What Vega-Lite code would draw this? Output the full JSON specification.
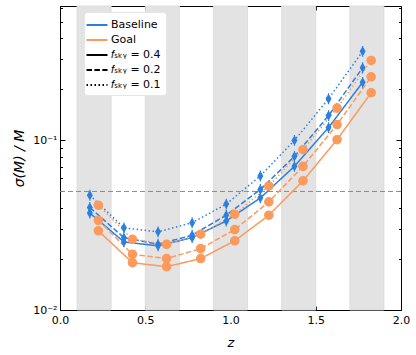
{
  "$schema": "https://vega.github.io/schema/vega-lite/v6.json",
  "autosize": {"type": "none"},
  "padding": {"left": 60, "top": 6, "right": 15, "bottom": 45},
  "width": 341,
  "height": 304,
  "datasets": {
    "bands": [
      {"z0": 0.1, "z1": 0.3}, {"z0": 0.5, "z1": 0.7}, {"z0": 0.9, "z1": 1.1},
      {"z0": 1.3, "z1": 1.5}, {"z0": 1.7, "z1": 1.9}
    ],
    "curves": [
      {"survey": "Baseline", "fsky": "0.1", "z": 0.175, "sigma": 0.0475},
      {"survey": "Baseline", "fsky": "0.1", "z": 0.375, "sigma": 0.0305},
      {"survey": "Baseline", "fsky": "0.1", "z": 0.575, "sigma": 0.0289},
      {"survey": "Baseline", "fsky": "0.1", "z": 0.775, "sigma": 0.0327},
      {"survey": "Baseline", "fsky": "0.1", "z": 0.975, "sigma": 0.0421},
      {"survey": "Baseline", "fsky": "0.1", "z": 1.175, "sigma": 0.0617},
      {"survey": "Baseline", "fsky": "0.1", "z": 1.375, "sigma": 0.100},
      {"survey": "Baseline", "fsky": "0.1", "z": 1.575, "sigma": 0.176},
      {"survey": "Baseline", "fsky": "0.1", "z": 1.775, "sigma": 0.335},
      {"survey": "Baseline", "fsky": "0.2", "z": 0.175, "sigma": 0.0402},
      {"survey": "Baseline", "fsky": "0.2", "z": 0.375, "sigma": 0.0267},
      {"survey": "Baseline", "fsky": "0.2", "z": 0.575, "sigma": 0.0244},
      {"survey": "Baseline", "fsky": "0.2", "z": 0.775, "sigma": 0.0276},
      {"survey": "Baseline", "fsky": "0.2", "z": 0.975, "sigma": 0.0362},
      {"survey": "Baseline", "fsky": "0.2", "z": 1.175, "sigma": 0.0513},
      {"survey": "Baseline", "fsky": "0.2", "z": 1.375, "sigma": 0.0805},
      {"survey": "Baseline", "fsky": "0.2", "z": 1.575, "sigma": 0.140},
      {"survey": "Baseline", "fsky": "0.2", "z": 1.775, "sigma": 0.268},
      {"survey": "Baseline", "fsky": "0.4", "z": 0.175, "sigma": 0.0373},
      {"survey": "Baseline", "fsky": "0.4", "z": 0.375, "sigma": 0.0252},
      {"survey": "Baseline", "fsky": "0.4", "z": 0.575, "sigma": 0.0239},
      {"survey": "Baseline", "fsky": "0.4", "z": 0.775, "sigma": 0.0267},
      {"survey": "Baseline", "fsky": "0.4", "z": 0.975, "sigma": 0.0335},
      {"survey": "Baseline", "fsky": "0.4", "z": 1.175, "sigma": 0.0458},
      {"survey": "Baseline", "fsky": "0.4", "z": 1.375, "sigma": 0.0703},
      {"survey": "Baseline", "fsky": "0.4", "z": 1.575, "sigma": 0.119},
      {"survey": "Baseline", "fsky": "0.4", "z": 1.775, "sigma": 0.220},
      {"survey": "Goal", "fsky": "0.1", "z": 0.225, "sigma": 0.0415},
      {"survey": "Goal", "fsky": "0.1", "z": 0.425, "sigma": 0.0261},
      {"survey": "Goal", "fsky": "0.1", "z": 0.625, "sigma": 0.0244},
      {"survey": "Goal", "fsky": "0.1", "z": 0.825, "sigma": 0.0280},
      {"survey": "Goal", "fsky": "0.1", "z": 1.025, "sigma": 0.0367},
      {"survey": "Goal", "fsky": "0.1", "z": 1.225, "sigma": 0.0539},
      {"survey": "Goal", "fsky": "0.1", "z": 1.425, "sigma": 0.0881},
      {"survey": "Goal", "fsky": "0.1", "z": 1.625, "sigma": 0.155},
      {"survey": "Goal", "fsky": "0.1", "z": 1.825, "sigma": 0.296},
      {"survey": "Goal", "fsky": "0.2", "z": 0.225, "sigma": 0.0338},
      {"survey": "Goal", "fsky": "0.2", "z": 0.425, "sigma": 0.0213},
      {"survey": "Goal", "fsky": "0.2", "z": 0.625, "sigma": 0.0201},
      {"survey": "Goal", "fsky": "0.2", "z": 0.825, "sigma": 0.0230},
      {"survey": "Goal", "fsky": "0.2", "z": 1.025, "sigma": 0.0298},
      {"survey": "Goal", "fsky": "0.2", "z": 1.225, "sigma": 0.0434},
      {"survey": "Goal", "fsky": "0.2", "z": 1.425, "sigma": 0.0703},
      {"survey": "Goal", "fsky": "0.2", "z": 1.625, "sigma": 0.124},
      {"survey": "Goal", "fsky": "0.2", "z": 1.825, "sigma": 0.237},
      {"survey": "Goal", "fsky": "0.4", "z": 0.225, "sigma": 0.0293},
      {"survey": "Goal", "fsky": "0.4", "z": 0.425, "sigma": 0.0190},
      {"survey": "Goal", "fsky": "0.4", "z": 0.625, "sigma": 0.0180},
      {"survey": "Goal", "fsky": "0.4", "z": 0.825, "sigma": 0.0201},
      {"survey": "Goal", "fsky": "0.4", "z": 1.025, "sigma": 0.0256},
      {"survey": "Goal", "fsky": "0.4", "z": 1.225, "sigma": 0.0362},
      {"survey": "Goal", "fsky": "0.4", "z": 1.425, "sigma": 0.0577},
      {"survey": "Goal", "fsky": "0.4", "z": 1.625, "sigma": 0.101},
      {"survey": "Goal", "fsky": "0.4", "z": 1.825, "sigma": 0.191}
    ]
  },
  "resolve": {"axis": {"x": "independent", "y": "independent"}},
  "layer": [
    {
      "data": {"name": "bands"},
      "mark": {"type": "rect", "color": "#e3e3e3", "stroke": "#d9d9d9", "strokeWidth": 0.8},
      "encoding": {
        "x": {"field": "z0", "type": "quantitative", "scale": {"domain": [0, 2], "padding": 0, "nice": false, "zero": false}, "axis": null},
        "x2": {"field": "z1"}
      }
    },
    {
      "data": {"values": [{"ref": 0.05}]},
      "mark": {"type": "rule", "color": "#8a8a8a", "strokeDash": [5, 3], "strokeWidth": 1},
      "encoding": {
        "y": {"field": "ref", "type": "quantitative", "scale": {"type": "log", "domain": [0.01, 0.62]}, "axis": null}
      }
    },
    {
      "data": {"name": "curves"},
      "mark": {"type": "line", "strokeWidth": 1.5},
      "encoding": {
        "x": {
          "field": "z", "type": "quantitative", "scale": {"domain": [0, 2], "padding": 0, "nice": false, "zero": false},
          "axis": {"orient": "bottom", "values": [0, 0.5, 1, 1.5, 2], "format": ".1f", "labelFlush": false, "tickSize": -4, "labelPadding": 8, "title": "z", "titleFontStyle": "italic", "titleFontSize": 13, "titlePadding": 11}
        },
        "y": {
          "field": "sigma", "type": "quantitative", "scale": {"type": "log", "domain": [0.01, 0.62]},
          "axis": {
            "orient": "left",
            "values": [0.01, 0.02, 0.03, 0.04, 0.05, 0.06, 0.07, 0.08, 0.09, 0.1, 0.2, 0.3, 0.4, 0.5, 0.6],
            "labelExpr": "datum.value == 0.1 ? '10⁻¹' : (datum.value == 0.01 ? '10⁻²' : '')",
            "labelFlush": false,
            "tickSize": {"condition": {"test": "datum.value == 0.1 || datum.value == 0.01", "value": -5}, "value": -2.5},
            "labelPadding": 8,
            "title": "σ(M) / M",
            "titleFontSize": 14,
            "titleFontStyle": "italic",
            "titlePadding": 6
          }
        },
        "color": {"field": "survey", "type": "nominal", "scale": {"domain": ["Baseline", "Goal"], "range": ["#2a80e2", "#fb9a5c"]}, "legend": null},
        "strokeDash": {
          "field": "fsky", "type": "nominal",
          "scale": {"domain": ["Baseline", "Goal", "0.4", "0.2", "0.1"], "range": [[1, 0], [1, 0], [1, 0], [5.5, 2.4], [1.5, 2.5]]},
          "legend": {
            "orient": "none", "legendX": 24, "legendY": 6,
            "title": null,
            "symbolType": "M-1.5,0L1.5,0", "symbolSize": 196, "symbolStrokeWidth": 1.8,
            "labelOffset": 6,
            "labelFontSize": 11, "labelFont": "DejaVu Sans", "labelColor": "black",
            "rowPadding": 2, "padding": 5,
            "fillColor": "white", "strokeColor": "#e6e6e6", "cornerRadius": 3,
            "labelExpr": "datum.label == 'Baseline' || datum.label == 'Goal' ? datum.label : '𝑓ₛₖᵧ = ' + datum.label",
            "encode": {"symbols": {"update": {"stroke": {"signal": "datum.value == 'Baseline' ? '#2a80e2' : (datum.value == 'Goal' ? '#fb9a5c' : 'black')"}}}}
          }
        },
        "detail": {"field": "survey"}
      }
    },
    {
      "data": {"name": "curves"},
      "mark": {"type": "point", "filled": true, "size": 70, "strokeWidth": 1.2, "opacity": 1},
      "encoding": {
        "x": {
          "field": "z", "type": "quantitative", "scale": {"domain": [0, 2], "padding": 0, "nice": false, "zero": false},
          "axis": {"orient": "top", "values": [0, 0.5, 1, 1.5, 2], "labels": false, "tickSize": -4, "title": null}
        },
        "y": {
          "field": "sigma", "type": "quantitative", "scale": {"type": "log", "domain": [0.01, 0.62]},
          "axis": {
            "orient": "right", "labels": false, "title": null,
            "values": [0.01, 0.02, 0.03, 0.04, 0.05, 0.06, 0.07, 0.08, 0.09, 0.1, 0.2, 0.3, 0.4, 0.5, 0.6],
            "tickSize": {"condition": {"test": "datum.value == 0.1 || datum.value == 0.01", "value": -5}, "value": -2.5}
          }
        },
        "shape": {"field": "survey", "type": "nominal", "scale": {"domain": ["Baseline", "Goal"], "range": ["M0,-1.3L0,1.3M0,-0.95L0.55,0L0,0.95L-0.55,0Z", "circle"]}, "legend": null},
        "fill": {"field": "survey", "type": "nominal", "scale": {"domain": ["Baseline", "Goal"], "range": ["#2a80e2", "#fb9a5c"]}, "legend": null},
        "stroke": {"field": "survey", "type": "nominal", "scale": {"domain": ["Baseline", "Goal"], "range": ["#2a80e2", "#fb9a5c"]}, "legend": null}
      }
    }
  ],
  "config": {
    "view": {"stroke": "black", "strokeWidth": 1},
    "axis": {"domain": false, "grid": false, "tickColor": "black", "labelColor": "black", "titleColor": "black", "labelFont": "DejaVu Sans", "titleFont": "DejaVu Sans", "titleFontWeight": "normal", "labelFontSize": 11}
  }
}
